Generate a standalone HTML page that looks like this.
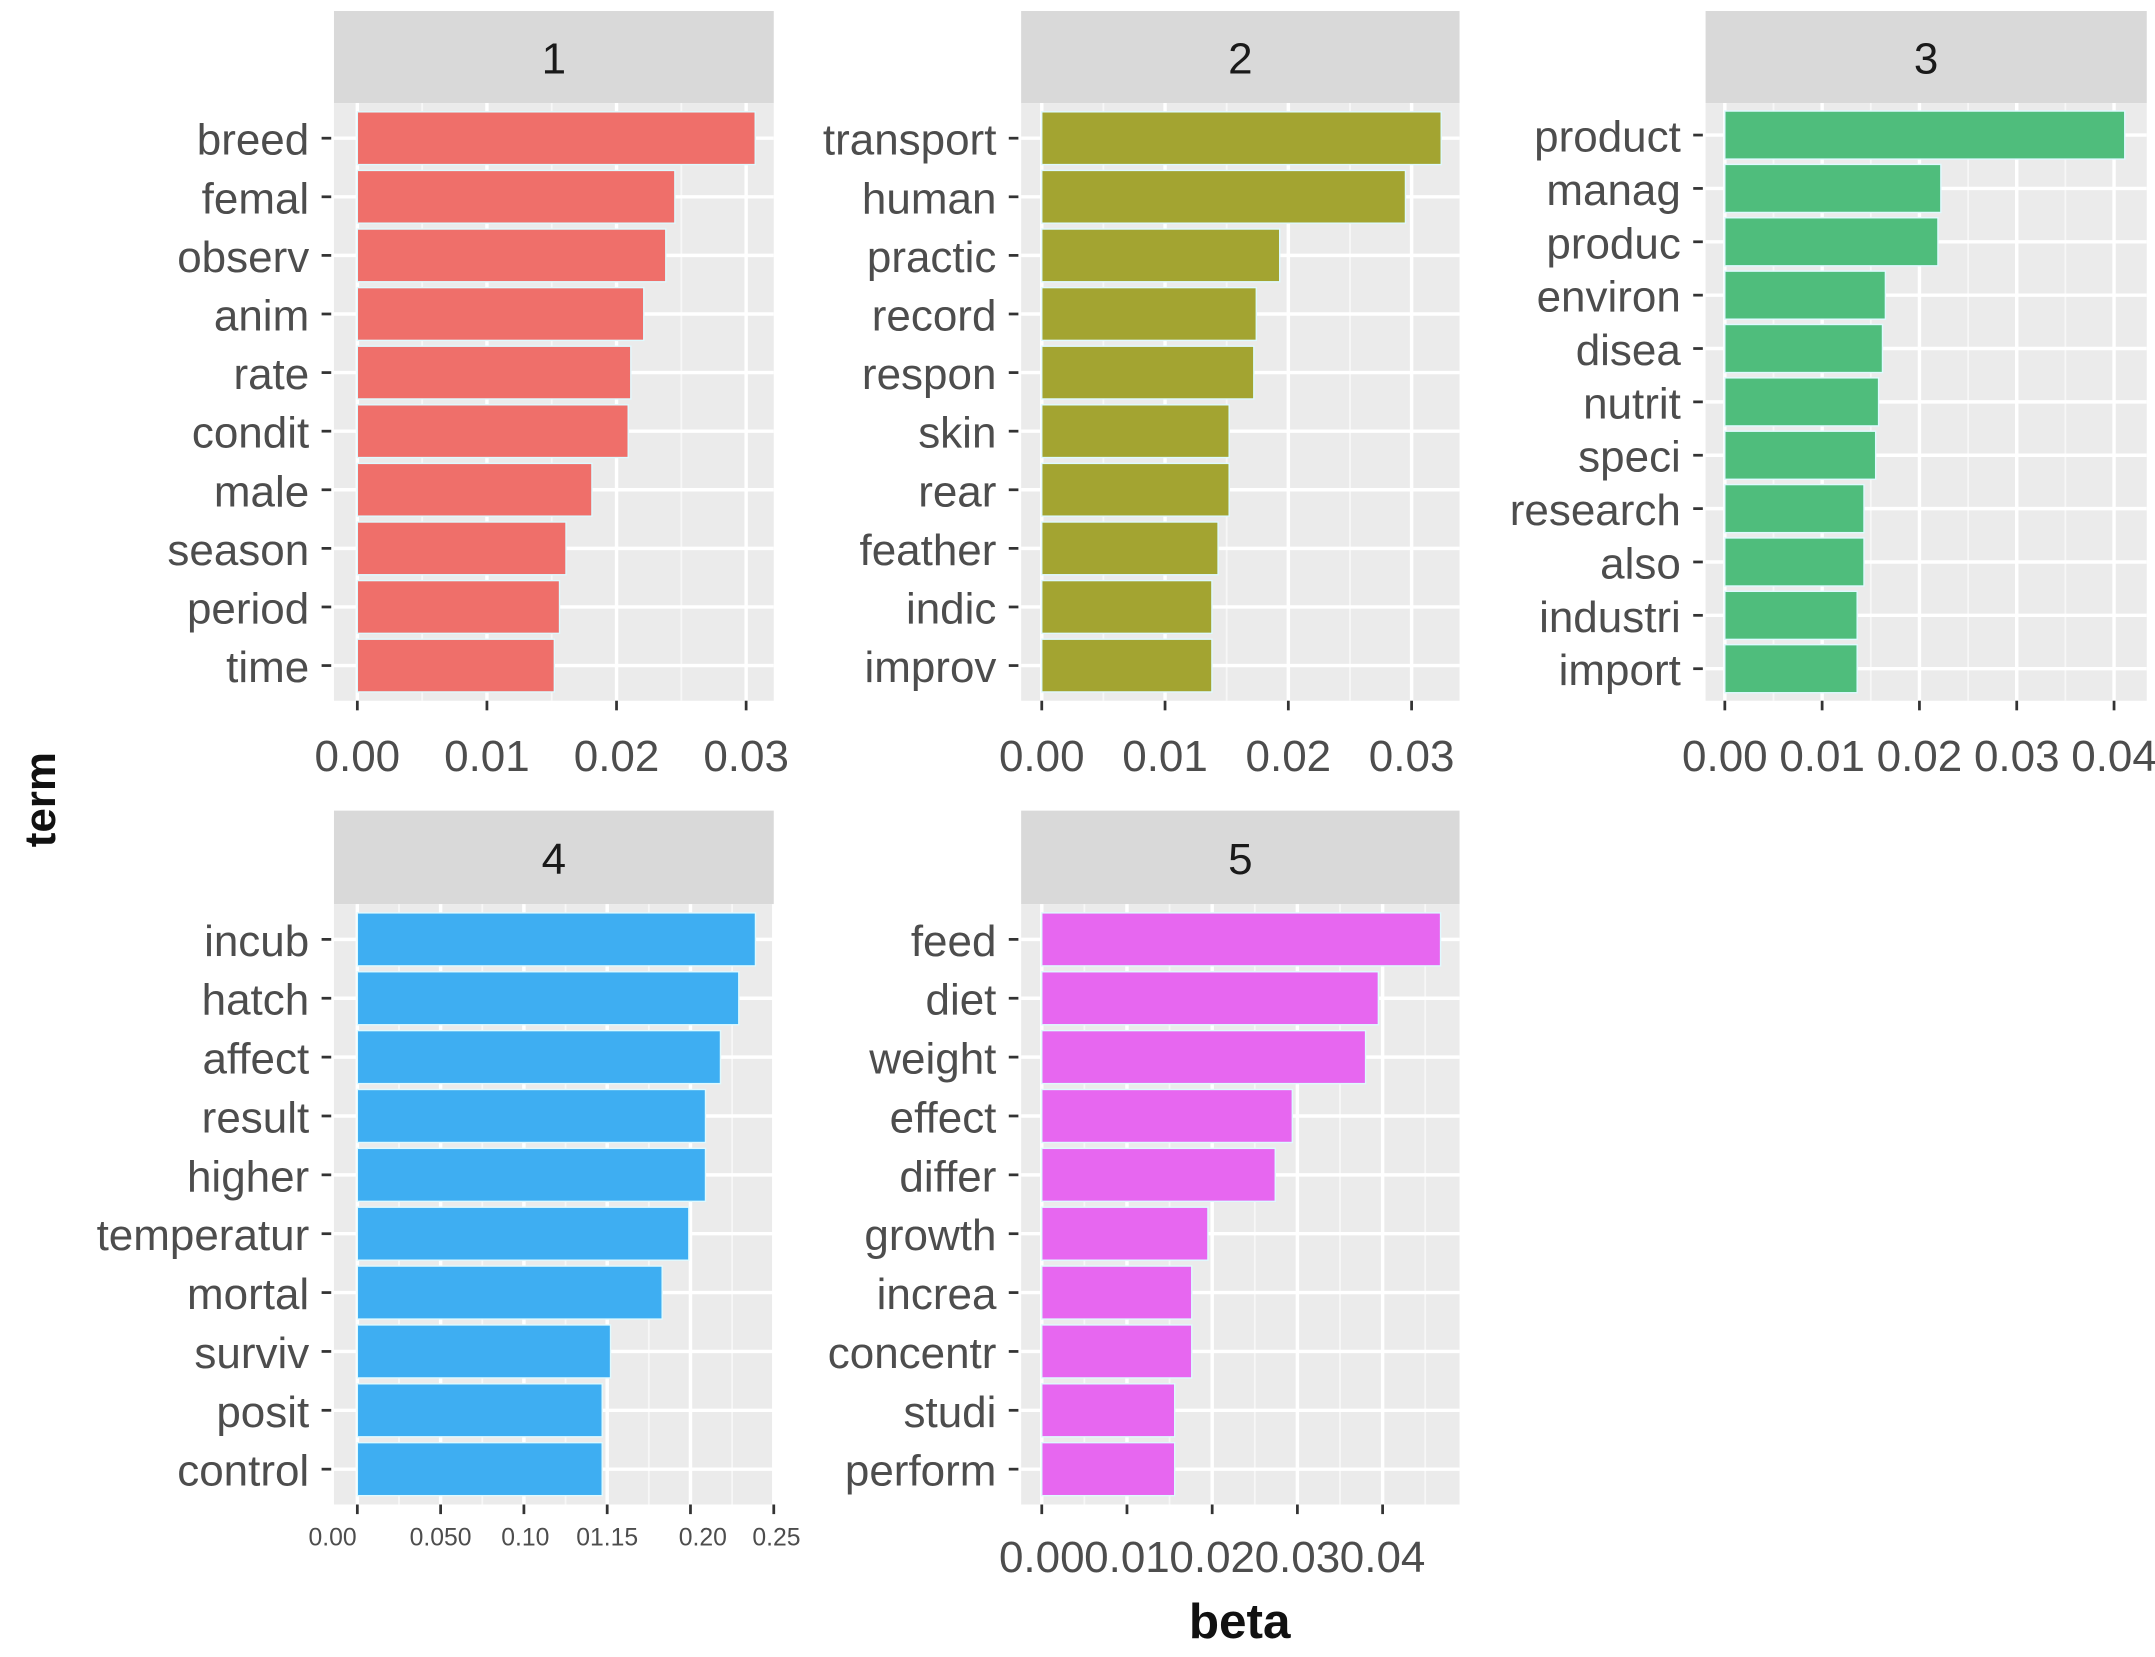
<!DOCTYPE html>
<html><head><meta charset="utf-8"><style>
html,body{margin:0;padding:0;background:#fff;}
svg{display:block;font-family:"Liberation Sans",sans-serif;}
</style></head><body>
<svg id="chart" width="2155" height="1657" viewBox="0 0 1568 1206" preserveAspectRatio="none" xmlns="http://www.w3.org/2000/svg">
<text x="40" y="582" font-size="32" font-weight="bold" fill="#111" text-anchor="middle" transform="rotate(-90 40 582)">term</text>
<text x="902" y="1192" font-size="36" font-weight="bold" fill="#111" text-anchor="middle">beta</text>
</svg>
<script>
const terms1 = ["breed","femal","observ","anim","rate","condit","male","season","period","time"];
const beta1 = [0.0307,0.0245,0.0238,0.0221,0.0211,0.0209,0.0181,0.0161,0.0156,0.0152];
const terms2 = ["transport","human","practic","record","respon","skin","rear","feather","indic","improv"];
const beta2 = [0.0324,0.0295,0.0193,0.0174,0.0172,0.0152,0.0152,0.0143,0.0138,0.0138];
const terms3 = ["product","manag","produc","environ","disea","nutrit","speci","research","also","industri","import"];
const beta3 = [0.0411,0.0222,0.0219,0.0165,0.0162,0.0158,0.0155,0.0143,0.0143,0.0136,0.0136];
const terms4 = ["incub","hatch","affect","result","higher","temperatur","mortal","surviv","posit","control"];
const beta4 = [0.239,0.229,0.218,0.209,0.209,0.199,0.183,0.152,0.147,0.147];
const terms5 = ["feed","diet","weight","effect","differ","growth","increa","concentr","studi","perform"];
const beta5 = [0.0468,0.0395,0.0380,0.0294,0.0274,0.0195,0.0176,0.0176,0.0156,0.0156];
const ticks123 = [0,0.01,0.02,0.03];
const ticks3 = [0,0.01,0.02,0.03,0.04];
const ticks4 = [0,0.05,0.10,0.15,0.20,0.25];
const tickLabels4 = ["0.00","0.050","0.10","01.15","0.20","0.25"];
const ticks5 = [0,0.01,0.02,0.03,0.04];

const NS="http://www.w3.org/2000/svg";
const svg=document.getElementById('chart');
function mk(tag,attrs,parent){const e=document.createElementNS(NS,tag);for(const k in attrs)e.setAttribute(k,attrs[k]);(parent||svg).appendChild(e);return e;}

function panel(cfg){
  const g=mk('g',{});
  
  
  const strip=mk('rect',{x:cfg.L,y:cfg.ST,width:cfg.R-cfg.L,height:cfg.T-cfg.ST,fill:'#d9d9d9'},g);
  
  
  const st=mk('text',{x:(cfg.L+cfg.R)/2,y:(cfg.ST+cfg.T)/2+12,'font-size':32,fill:'#1a1a1a','text-anchor':'middle'},g);
  st.textContent=cfg.id;
  
  
  const bg=mk('rect',{x:cfg.L,y:cfg.T,width:cfg.R-cfg.L,height:cfg.B-cfg.T,fill:'#ebebeb'},g);
  
  
  const xs=v=>cfg.x0+v*cfg.k;
  const n=cfg.terms.length;
  const step=(cfg.B-cfg.T)/(n-1+1.2);
  const ys=i=>cfg.T+(0.6+i)*step;
  const d=cfg.ticks[1]-cfg.ticks[0];
  for(let i=0;i<cfg.ticks.length+1;i++){
    const x=xs(cfg.ticks[0]+d*(i+0.5));
    if(x<cfg.R-1) mk('line',{x1:x,x2:x,y1:cfg.T,y2:cfg.B,stroke:'#f7f7f7','stroke-width':1.3},g);
  }
  cfg.ticks.forEach((t,i)=>{
    const x=xs(t);
    if(x<=cfg.R) mk('line',{x1:x,x2:x,y1:cfg.T,y2:cfg.B,stroke:'#fff','stroke-width':2.5},g);
    mk('line',{x1:x,x2:x,y1:cfg.B,y2:cfg.B+7,stroke:'#333','stroke-width':2},g);
    const lab=mk('text',{x:x+(cfg.labOff?cfg.labOff[i]:0),y:cfg.B+cfg.labDy,'font-size':cfg.tickFont,fill:'#4d4d4d','text-anchor':'middle'},g);
    lab.textContent=cfg.tickLabels?cfg.tickLabels[i]:t.toFixed(2);
    
    
  });
  cfg.terms.forEach((term,i)=>{
    const y=ys(i);
    mk('line',{x1:cfg.L,x2:cfg.R,y1:y,y2:y,stroke:'#fff','stroke-width':2.5},g);
    const bar=mk('rect',{x:xs(0),y:y-step*0.45,width:xs(cfg.vals[i])-xs(0),height:step*0.9,fill:cfg.color,stroke:'#dffaff','stroke-width':1},g);
    
    
    mk('line',{x1:cfg.L-9,x2:cfg.L-2,y1:y,y2:y,stroke:'#333','stroke-width':2},g);
    const tl=mk('text',{x:cfg.L-18,y:y+12,'font-size':32,fill:'#4d4d4d','text-anchor':'end'},g);
    tl.textContent=term;
    
    
  });
}
panel({id:'1',L:243,R:563,ST:8,T:75,B:510,x0:260,k:9430,terms:terms1,vals:beta1,ticks:ticks123,color:'#ef6f6a',tickFont:32,labDy:51});
panel({id:'2',L:743,R:1062,ST:8,T:75,B:510,x0:758,k:8970,terms:terms2,vals:beta2,ticks:ticks123,color:'#a3a431',tickFont:32,labDy:51});
panel({id:'3',L:1241,R:1562,ST:8,T:75,B:510,x0:1255,k:7080,terms:terms3,vals:beta3,ticks:ticks3,color:'#4fbd7c',tickFont:32,labDy:51});
panel({id:'4',L:243,R:563,ST:590,T:658,B:1095,x0:260,k:1212,terms:terms4,vals:beta4,ticks:ticks4,tickLabels:tickLabels4,labOff:[-18,0,1,0,9,2],color:'#3eaef2',tickFont:18,labDy:30});
panel({id:'5',L:743,R:1062,ST:590,T:658,B:1095,x0:758,k:6200,terms:terms5,vals:beta5,ticks:ticks5,color:'#e767f0',tickFont:32,labDy:49});
</script>
</body></html>
